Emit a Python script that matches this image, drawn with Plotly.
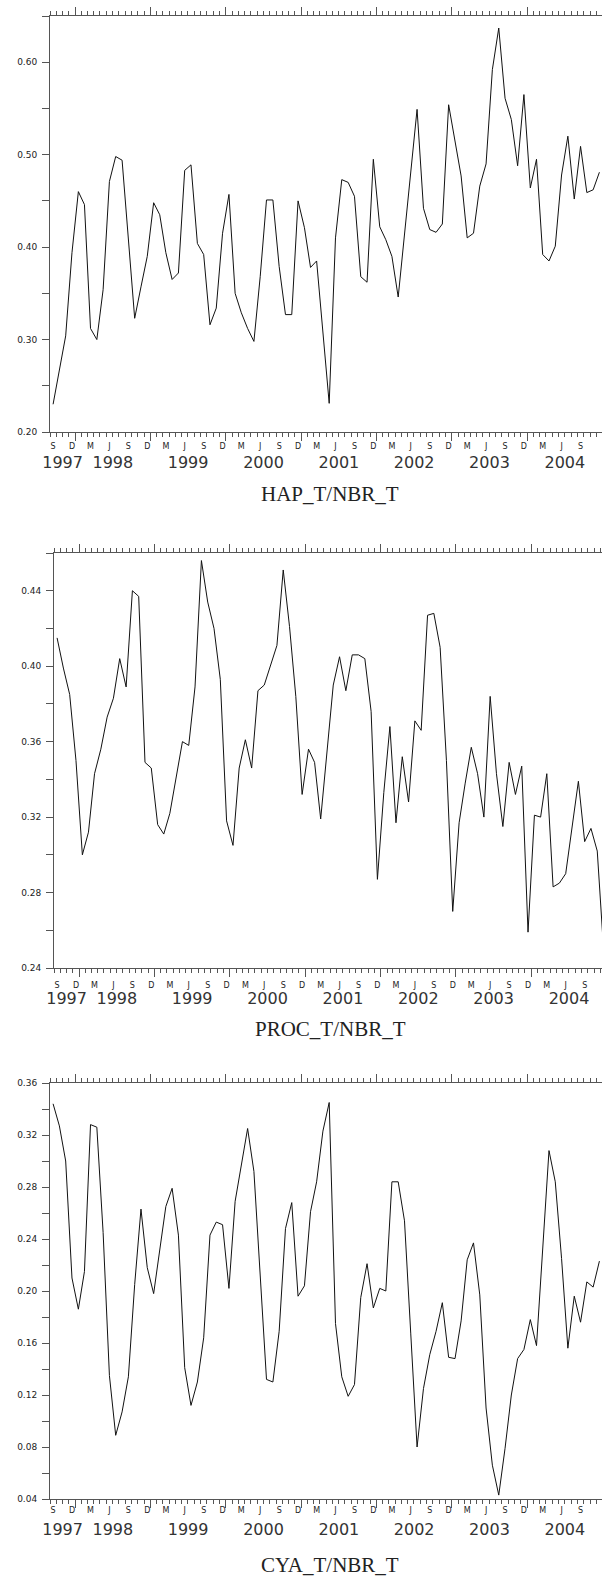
import plotly.graph_objects as go
import pandas as pd
import numpy as np

# ---------------- data ----------------
START = "1997-09-01"          # first month of the series
N_MONTHS = 88                 # Sep 1997 .. Dec 2004

hap_t_nbr_t = [
    0.230, 0.266, 0.304, 0.394, 0.460, 0.446, 0.312, 0.300, 0.354, 0.471,
    0.498, 0.494, 0.410, 0.323, 0.357, 0.390, 0.448, 0.435, 0.394, 0.365,
    0.372, 0.483, 0.489, 0.404, 0.392, 0.316, 0.334, 0.415, 0.457, 0.350,
    0.329, 0.312, 0.298, 0.368, 0.451, 0.451, 0.379, 0.327, 0.327, 0.450,
    0.421, 0.378, 0.385, 0.305, 0.231, 0.410, 0.473, 0.470, 0.455, 0.368,
    0.362, 0.495, 0.422, 0.408, 0.390, 0.346, 0.413, 0.480, 0.549, 0.442,
    0.419, 0.416, 0.425, 0.554, 0.516, 0.477, 0.410, 0.415, 0.466, 0.490,
    0.592, 0.637, 0.561, 0.538, 0.488, 0.565, 0.464, 0.495, 0.392, 0.385,
    0.401, 0.478, 0.520, 0.452, 0.509, 0.459, 0.462, 0.481,
]

proc_t_nbr_t = [
    0.415, 0.399, 0.385, 0.350, 0.300, 0.312, 0.343, 0.356, 0.373, 0.383,
    0.404, 0.389, 0.440, 0.437, 0.349, 0.346, 0.316, 0.311, 0.322, 0.342,
    0.360, 0.358, 0.389, 0.456, 0.434, 0.420, 0.393, 0.318, 0.305, 0.346,
    0.361, 0.346, 0.387, 0.390, 0.400, 0.411, 0.451, 0.421, 0.384, 0.332,
    0.356, 0.349, 0.319, 0.354, 0.390, 0.405, 0.387, 0.406, 0.406, 0.404,
    0.376, 0.287, 0.333, 0.368, 0.317, 0.352, 0.328, 0.371, 0.366, 0.427,
    0.428, 0.410, 0.350, 0.270, 0.317, 0.338, 0.357, 0.343, 0.320, 0.384,
    0.343, 0.315, 0.349, 0.332, 0.347, 0.259, 0.321, 0.320, 0.343, 0.283,
    0.285, 0.290, 0.314, 0.339, 0.307, 0.314, 0.302, 0.250,
]

cya_t_nbr_t = [
    0.344, 0.327, 0.300, 0.210, 0.186, 0.215, 0.328, 0.326, 0.245, 0.135,
    0.089, 0.107, 0.134, 0.205, 0.263, 0.218, 0.198, 0.230, 0.265, 0.279,
    0.243, 0.141, 0.112, 0.130, 0.164, 0.243, 0.253, 0.251, 0.202, 0.269,
    0.297, 0.325, 0.292, 0.210, 0.132, 0.130, 0.169, 0.248, 0.268, 0.196,
    0.204, 0.261, 0.284, 0.323, 0.345, 0.175, 0.134, 0.119, 0.128, 0.195,
    0.221, 0.187, 0.202, 0.200, 0.284, 0.284, 0.254, 0.167, 0.080, 0.125,
    0.151, 0.169, 0.191, 0.149, 0.148, 0.177, 0.224, 0.237, 0.197, 0.110,
    0.066, 0.043, 0.079, 0.120, 0.148, 0.155, 0.178, 0.158, 0.233, 0.308,
    0.284, 0.225, 0.156, 0.196, 0.176, 0.207, 0.203, 0.223,
]

titles = ["HAP_T/NBR_T", "PROC_T/NBR_T", "CYA_T/NBR_T"]
month_letters = {9: "S", 12: "D", 3: "M", 6: "J"}
year_labels = ["1997", "1998", "1999", "2000", "2001", "2002", "2003", "2004"]

# ---------------- layout geometry / style ----------------
W, H = 602, 1577
panels = [
    dict(top=16, bottom=432, left=50, xend="2004-12-29", yr=(0.20, 0.65), step=0.05, lab=0.10,
         mon_off=8, yr_off=19, title_y=494),
    dict(top=553, bottom=968, left=54, xend="2004-12-09", yr=(0.24, 0.46), step=0.02, lab=0.04,
         mon_off=11, yr_off=19, title_y=1029),
    dict(top=1083, bottom=1499, left=50, xend="2004-12-29", yr=(0.04, 0.36), step=0.02, lab=0.04,
         mon_off=5, yr_off=19, title_y=1565),
]
series = [hap_t_nbr_t, proc_t_nbr_t, cya_t_nbr_t]

AX = "#555555"
TXT = "#222222"
SANS = "DejaVu Sans"
SERIF = "Liberation Serif"

month_starts = pd.date_range(START, periods=N_MONTHS, freq="MS")
next_starts = month_starts + pd.offsets.MonthBegin(1)
mids = month_starts + (next_starts - month_starts) / 2

year_ticks = [pd.Timestamp(f"{y}-01-01") for y in range(1998, 2005)]
mon_vals = [m for m in mids if m.month in month_letters]
mon_text = [month_letters[m.month] for m in mon_vals]
first = pd.Timestamp(START)
year_centers = []
for lab in year_labels:
    y0 = max(pd.Timestamp(f"{lab}-01-01"), first)
    y1 = pd.Timestamp(f"{int(lab) + 1}-01-01")
    year_centers.append(y0 + (y1 - y0) / 2)

fig = go.Figure()
layout = dict(
    width=W, height=H, margin=dict(l=0, r=0, t=0, b=0, pad=0, autoexpand=False),
    paper_bgcolor="white", plot_bgcolor="white", showlegend=False,
    hovermode=False, annotations=[],
)

for k, (p, vals) in enumerate(zip(panels, series)):
    n = k + 1
    xs = "" if n == 1 else str(n)
    xname, yname = "x" + xs, "y" + xs
    xr = [pd.Timestamp(START), pd.Timestamp(p["xend"])]
    xdom = [p["left"] / W, 1.0]
    ydom = [1 - p["bottom"] / H, 1 - p["top"] / H]

    fig.add_trace(go.Scatter(
        x=mids, y=vals, mode="lines", xaxis=xname, yaxis=yname,
        line=dict(color="#111111", width=1), hoverinfo="skip",
    ))

    lo, hi = p["yr"]
    yt = np.round(np.arange(lo, hi + 1e-9, p["step"]), 3)
    ytext = [f"{v:.2f}" if abs(v / p["lab"] - round(v / p["lab"])) < 1e-6 else "" for v in yt]

    layout["xaxis" + xs] = dict(
        domain=xdom, anchor=yname, type="date", range=xr, automargin=False,
        tickmode="array", tickvals=year_ticks, ticks="outside", ticklen=8,
        tickcolor=AX, tickwidth=1, showticklabels=False,
        showline=True, linecolor=AX, linewidth=1, mirror="ticks",
        showgrid=False, zeroline=False,
        minor=dict(tickmode="array", tickvals=list(month_starts), ticks="outside",
                   ticklen=4, tickcolor=AX, tickwidth=1, showgrid=False),
    )
    layout["yaxis" + xs] = dict(
        domain=ydom, anchor=xname, range=[lo, hi], automargin=False,
        tickmode="array", tickvals=list(yt), ticktext=ytext,
        ticks="outside", ticklen=7, tickcolor=AX, tickwidth=1,
        showline=True, linecolor=AX, linewidth=1,
        showgrid=False, zeroline=False,
        tickfont=dict(family=SANS, size=9, color=TXT), ticklabelstandoff=3,
    )
    # month letters (label-only axis over the same time scale)
    ma = str(n + 3)
    layout["xaxis" + ma] = dict(
        overlaying=xname, anchor=yname, side="bottom", type="date", range=xr,
        automargin=False,
        tickmode="array", tickvals=mon_vals, ticktext=mon_text, ticks="",
        showline=False, showgrid=False, zeroline=False, tickangle=0,
        tickfont=dict(family=SANS, size=8, color=TXT), ticklabelstandoff=p["mon_off"],
    )
    # year labels (label-only axis over the same time scale)
    ya = str(n + 6)
    layout["xaxis" + ya] = dict(
        overlaying=xname, anchor=yname, side="bottom", type="date", range=xr,
        automargin=False,
        tickmode="array", tickvals=year_centers, ticktext=year_labels, ticks="",
        showline=False, showgrid=False, zeroline=False, tickangle=0,
        tickfont=dict(family=SANS, size=16, color="#333333"), ticklabelstandoff=p["yr_off"],
    )
    # empty traces so that the label-only axes get a subplot and are drawn
    for ax in (ma, ya):
        fig.add_trace(go.Scatter(x=[], y=[], mode="lines", xaxis="x" + ax, yaxis=yname,
                                 hoverinfo="skip", showlegend=False))
    layout["annotations"].append(dict(
        text=titles[k], xref="paper", yref="paper", x=330 / W, y=1 - p["title_y"] / H,
        xanchor="center", yanchor="middle", showarrow=False,
        font=dict(family=SERIF, size=21, color=TXT),
    ))

fig.update_layout(**layout)
fig.write_html(
    "out.html",
    config={"displayModeBar": False, "staticPlot": True},
    post_script="document.body.style.margin='0';document.body.style.overflow='hidden';",
)
